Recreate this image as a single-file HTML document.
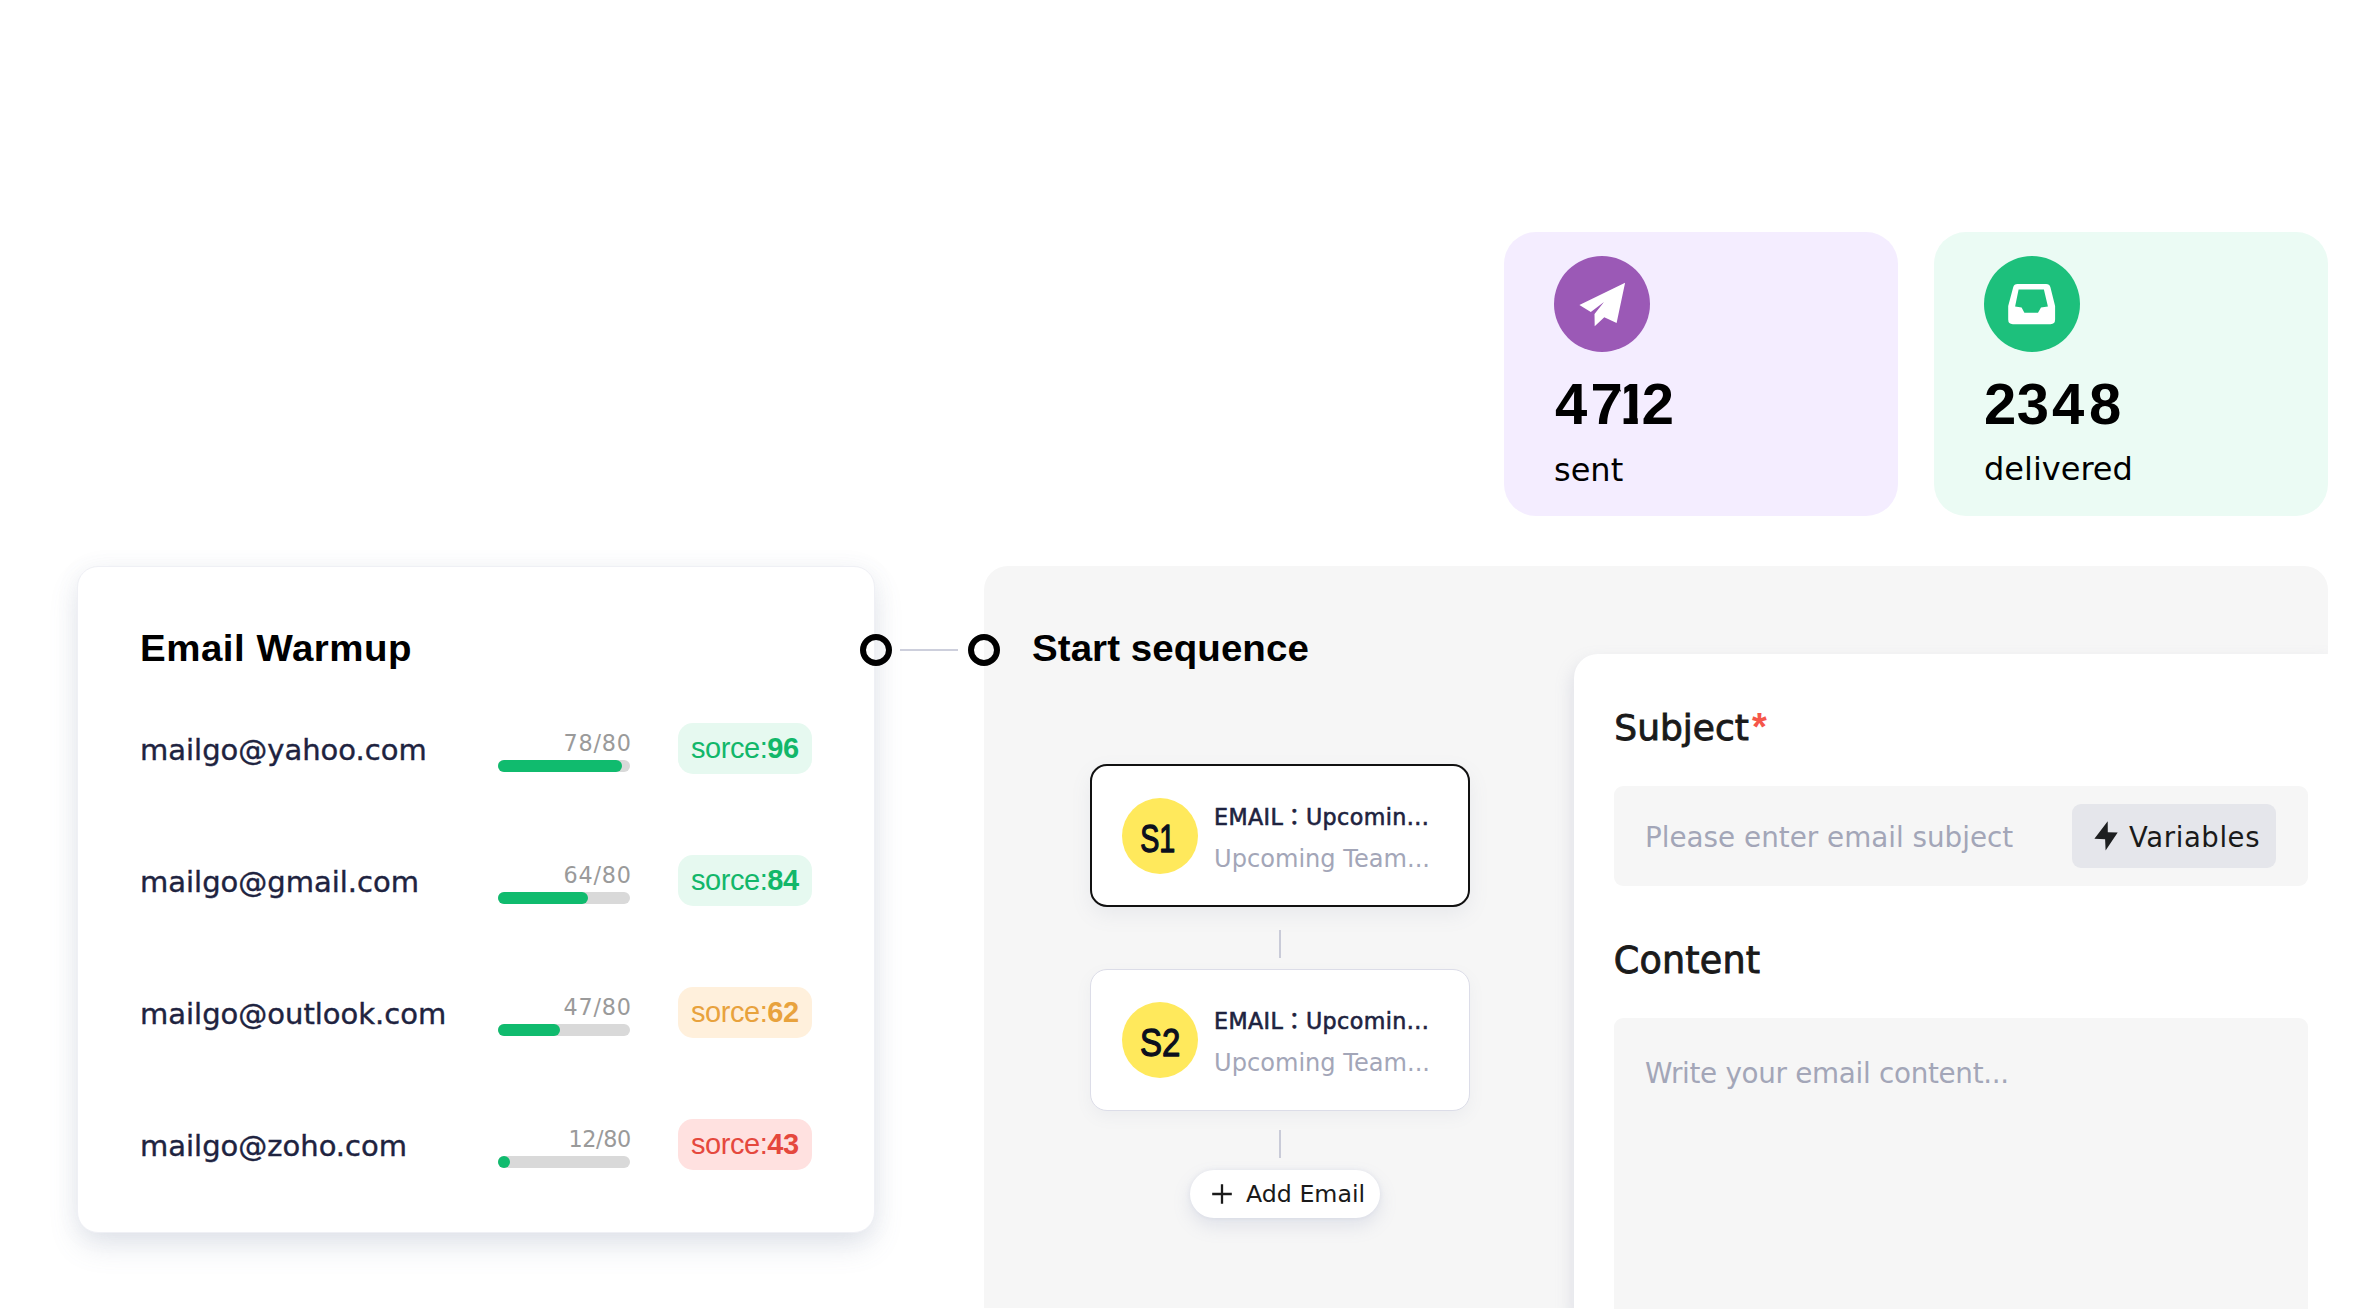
<!DOCTYPE html>
<html lang="en">
<head>
<meta charset="utf-8">
<title>Mailgo</title>
<style>
*{box-sizing:border-box;margin:0;padding:0}
html,body{width:2368px;height:1309px;overflow:hidden;background:#fff}
body{position:relative;font-family:"Liberation Sans","Noto Sans CJK SC",sans-serif;color:#000}
.dv{font-family:"DejaVu Sans","Liberation Sans","Noto Sans CJK SC",sans-serif}
.abs{position:absolute}
.t{position:absolute;white-space:nowrap;line-height:1;transform-origin:0 0}

/* stat cards */
.stat{position:absolute;top:232px;width:394px;height:284px;border-radius:32px}
.stat.sent{left:1504px;background:#f4edff}
.stat.deliv{left:1934px;background:#ebfbf4}
.stat .ic{position:absolute;left:50px;top:24px;width:96px;height:96px;border-radius:50%}
.stat.sent .ic{background:#9b59b6}
.stat.deliv .ic{background:#1dc07c}
.stat .ic svg{position:absolute;left:0;top:0;width:96px;height:96px}
.num{font-weight:700;font-size:58px;color:#000}
.lbl{font-family:"DejaVu Sans","Liberation Sans",sans-serif;font-size:32px;color:#000}

/* warmup card */
.warm{position:absolute;left:77px;top:566px;width:798px;height:667px;background:#fff;border-radius:21px;border:1.5px solid #eff0f5;
 box-shadow:0 14px 30px -2px rgba(105,120,155,.19), 0 2px 24px rgba(105,120,155,.065)}
.h{font-weight:700;font-size:36px;color:#000}
.mail{font-family:"DejaVu Sans","Liberation Sans",sans-serif;font-size:29px;color:#1e2340;-webkit-text-stroke:.4px #1e2340}
.cnt{font-family:"DejaVu Sans","Liberation Sans",sans-serif;font-size:22px;color:#9a9a9a}
.bar{position:absolute;left:498px;width:132px;height:12px;border-radius:6px;background:#d9d9d9}
.bar i{position:absolute;left:0;top:0;height:12px;border-radius:6px;background:#10bb6e}
.badge{position:absolute;left:678px;width:134px;height:51.5px;border-radius:15px;margin-top:-.5px}
.badge.g{background:#e6f9f0;color:#12b76a}
.badge.o{background:#fff0dc;color:#e8a23d}
.badge.r{background:#ffe1e0;color:#e5483d}
.badge span{position:absolute;left:13px;top:11.6px;font-size:29px;letter-spacing:-.45px;line-height:1;white-space:nowrap}
.badge b{font-weight:700}

/* rings */
.ring{position:absolute;width:32px;height:32px;border-radius:50%;border:6px solid #000;background:transparent}
.rline{position:absolute;left:900px;top:649px;width:58px;height:2.4px;background:#cdcfdc}

/* sequence panel */
.panel{position:absolute;left:984px;top:566px;width:1344px;height:742px;background:#f6f6f6;border-radius:24px 24px 0 0;overflow:hidden}
.step{position:absolute;left:1090px;width:380px;background:#fff;border-radius:17px}
.step.s1{top:764px;height:143px;border:2px solid #111;box-shadow:0 8px 20px rgba(120,130,160,.10)}
.step.s2{top:968.5px;height:142px;border:1.6px solid #dcdde8;box-shadow:0 6px 16px rgba(120,130,160,.07)}
.dot{position:absolute;left:1122px;width:76px;height:76px;border-radius:50%;background:#ffe95c}
.sn{font-size:39.5px;color:#0b0f1e;font-weight:400;-webkit-text-stroke:1.3px #0b0f1e}
.e1{font-family:"DejaVu Sans","Noto Sans CJK TC",sans-serif;font-size:23px;color:#1e2340;-webkit-text-stroke:.6px #1e2340}
.e2{font-family:"DejaVu Sans","Liberation Sans",sans-serif;font-size:23.5px;color:#a3a6b8}
.vl{position:absolute;left:1279px;width:2px;height:28px;background:#c9cbd8}
.add{position:absolute;left:1190px;top:1170px;width:190px;height:48px;border-radius:24px;background:#fff;box-shadow:0 8px 18px rgba(130,140,180,.18),0 0 5px rgba(130,140,190,.14)}
.addt{font-family:"DejaVu Sans","Liberation Sans",sans-serif;font-size:23.3px;color:#1a1a1a}

/* form card */
.form{position:absolute;left:1574px;top:654px;width:760px;height:660px;background:#fff;border-radius:24px 0 0 0;box-shadow:-2px 8px 18px rgba(130,135,170,.20)}
.fl{font-family:"DejaVu Sans","Liberation Sans",sans-serif;font-size:36px;color:#1a1a1a;-webkit-text-stroke:.9px #1a1a1a}
.inp{position:absolute;left:1614px;top:786px;width:694px;height:100px;border-radius:9px;background:#f6f6f6}
.ph{font-family:"DejaVu Sans","Liberation Sans",sans-serif;font-size:27.8px;color:#a3a6b8}
.var{position:absolute;left:2072px;top:804px;width:204px;height:64px;border-radius:9px;background:#e5e6eb}
.vt{font-family:"DejaVu Sans","Liberation Sans",sans-serif;font-size:28px;color:#1a1a1a}
.ta{position:absolute;left:1614px;top:1018px;width:694px;height:300px;border-radius:9px 9px 0 0;background:#f6f6f6}
.cover{position:absolute;left:2328px;top:540px;width:40px;height:769px;background:#fff}
.bottom{position:absolute;left:0;top:1308px;width:2368px;height:1px;background:#fff}
</style>
</head>
<body>

<!-- stat cards -->
<div class="stat sent">
  <div class="ic"><svg viewBox="0 0 96 96"><path fill="#fff" d="M71.1 26.7 L25.4 49 L36.8 56 L50 46.1 L40.5 58 L40.7 70.2 L50.3 61.3 L62.6 66.9 Z"/></svg></div>
</div>
<div class="stat deliv">
  <div class="ic"><svg viewBox="0 0 96 96"><path fill="#fff" fill-rule="evenodd" d="M33.5 27.9 H62.1 Q65.5 27.9 66.4 31.2 L71.1 50 V63.6 Q71.1 68.2 66.5 68.2 H28.8 Q24.2 68.2 24.2 63.6 V50 L29.2 31.2 Q30.1 27.9 33.5 27.9 Z M34.6 33.5 L31.1 50.5 L37.6 51.5 L40.4 56.8 H54 L57 51.5 L63.9 50.5 L59.9 33.5 Z"/></svg></div>
</div>
<svg class="t" id="n1" style="left:1555px;top:374.5px;overflow:visible" width="122" height="58"><defs><clipPath id="c1x"><path clip-rule="evenodd" d="M-10 -10 H140 V70 H-10 Z M65.8 4 H69.3 V16.6 H65.8 Z M64.2 16.6 H69.3 V32 H64.2 Z M62 38 H68.6 V53 H62 Z M82.8 38 H88.6 V53 H82.8 Z"/></clipPath></defs><text clip-path="url(#c1x)" x="0 35.6 60.8 86.8" y="49.1" font-family="Liberation Sans, sans-serif" font-weight="700" font-size="58" fill="#000">4712</text></svg>
<div class="t lbl" id="l1" style="left:1554px;top:453.5px">sent</div>
<svg class="t" id="n2" style="left:1983.9px;top:374.5px;overflow:visible" width="140" height="58"><text x="0 32.8 68.1 105.1" y="49.1" font-family="Liberation Sans, sans-serif" font-weight="700" font-size="58" fill="#000">2348</text></svg>
<div class="t lbl" id="l2" style="left:1984px;top:453px">delivered</div>

<!-- sequence panel -->
<div class="panel"></div>
<div class="form"></div>
<div class="cover"></div>
<div class="bottom"></div>

<div class="t h" id="h2" style="left:1031.5px;top:630px;font-size:37px;letter-spacing:.07px;transform:scaleX(1.04)">Start sequence</div>

<div class="step s1"></div>
<div class="dot" style="top:798px"></div>
<svg class="t" id="s1" style="left:1140px;top:818.9px;overflow:visible" width="44" height="40"><text transform="translate(0.2,33.44) scale(.725,1)" font-family="Liberation Sans, sans-serif" font-size="39.5" fill="#0b0f1e" stroke="#0b0f1e" stroke-width="1.4" stroke-linejoin="round">S1</text></svg>
<div class="t e1" id="e11" style="left:1214px;top:806px;font-size:22.2px;letter-spacing:.42px">EMAIL：Upcomin...</div>
<div class="t e2" id="e12" style="left:1214px;top:847.3px;font-size:24.1px">Upcoming Team...</div>
<div class="vl" style="top:930px"></div>

<div class="step s2"></div>
<div class="dot" style="top:1002px"></div>
<svg class="t" id="s2" style="left:1140px;top:1022.9px;overflow:visible" width="44" height="40"><text transform="translate(0,33.44) scale(.835,1)" font-family="Liberation Sans, sans-serif" font-size="39.5" fill="#0b0f1e" stroke="#0b0f1e" stroke-width="1.3" stroke-linejoin="round">S2</text></svg>
<div class="t e1" id="e21" style="left:1214px;top:1010px;font-size:22.2px;letter-spacing:.42px">EMAIL：Upcomin...</div>
<div class="t e2" id="e22" style="left:1214px;top:1051.3px;font-size:24.1px">Upcoming Team...</div>
<div class="vl" style="top:1130px"></div>

<div class="add">
  <svg class="abs" style="left:21.9px;top:14.3px" width="20" height="20" viewBox="0 0 20 20"><path d="M10 0.2 V19.8 M0.2 10 H19.8" stroke="#1a1a1a" stroke-width="2.3" fill="none"/></svg>
</div>
<div class="t addt" id="addt" style="left:1246px;top:1183px;font-size:23.7px">Add Email</div>

<!-- form -->
<div class="t fl" id="f1" style="left:1614.3px;top:710.2px">Subject<span id="ast" style="font-family:'Liberation Sans',sans-serif;font-weight:700;color:#f5564a;-webkit-text-stroke:0;font-size:38px;line-height:1;position:absolute;left:100%;margin-left:3px;top:-2px">*</span></div>
<div class="inp"></div>
<div class="t ph" id="p1" style="left:1645px;top:824px">Please enter email subject</div>
<div class="var">
  <svg class="abs" style="left:0;top:0" width="204" height="64" viewBox="0 0 204 64"><path fill="#1d1f20" d="M35.7 17.3 L22.4 34.8 L33.1 35.3 L33.6 46.6 L45.7 28.5 L35.8 28.3 Z"/></svg>
</div>
<div class="t vt" id="v1" style="left:2129px;top:823.6px;font-size:27.5px;letter-spacing:.6px">Variables</div>
<div class="t fl" id="f2" style="left:1613.8px;top:942.5px;font-size:36.5px;letter-spacing:.2px">Content</div>
<div class="ta"></div>
<div class="t ph" id="p2" style="left:1645px;top:1060px;letter-spacing:-.3px">Write your email content...</div>

<!-- warmup card -->
<div class="warm"></div>
<div class="t h" id="h1" style="left:139.5px;top:629.5px;font-size:37px;letter-spacing:.5px;transform:scaleX(1.04)">Email Warmup</div>

<div class="t mail" id="m1" style="left:140px;top:735.7px">mailgo@yahoo.com</div>
<div class="t cnt" id="c1" style="left:563.5px;top:731.8px;font-size:22.3px;letter-spacing:.8px">78/80</div>
<div class="bar" style="top:760px"><i style="width:124px"></i></div>
<div class="badge g" style="top:723px"><span>sorce:<b>96</b></span></div>

<div class="t mail" id="m2" style="left:140px;top:867.7px">mailgo@gmail.com</div>
<div class="t cnt" id="c2" style="left:563.5px;top:863.8px;font-size:22.3px;letter-spacing:.8px">64/80</div>
<div class="bar" style="top:892px"><i style="width:90px"></i></div>
<div class="badge g" style="top:855px"><span>sorce:<b>84</b></span></div>

<div class="t mail" id="m3" style="left:140px;top:999.7px">mailgo@outlook.com</div>
<div class="t cnt" id="c3" style="left:563.5px;top:995.8px;font-size:22.3px;letter-spacing:.8px">47/80</div>
<div class="bar" style="top:1024px"><i style="width:62px"></i></div>
<div class="badge o" style="top:987px"><span>sorce:<b>62</b></span></div>

<div class="t mail" id="m4" style="left:140px;top:1131.7px">mailgo@zoho.com</div>
<div class="t cnt" id="c4" style="left:568.5px;top:1127.8px;font-size:22.3px;letter-spacing:-.4px">12/80</div>
<div class="bar" style="top:1156px"><i style="width:12px"></i></div>
<div class="badge r" style="top:1119px"><span>sorce:<b>43</b></span></div>

<!-- connector rings -->
<div class="rline"></div>
<div class="ring" style="left:860px;top:634px"></div>
<div class="ring" style="left:968px;top:634px"></div>

</body>
</html>
